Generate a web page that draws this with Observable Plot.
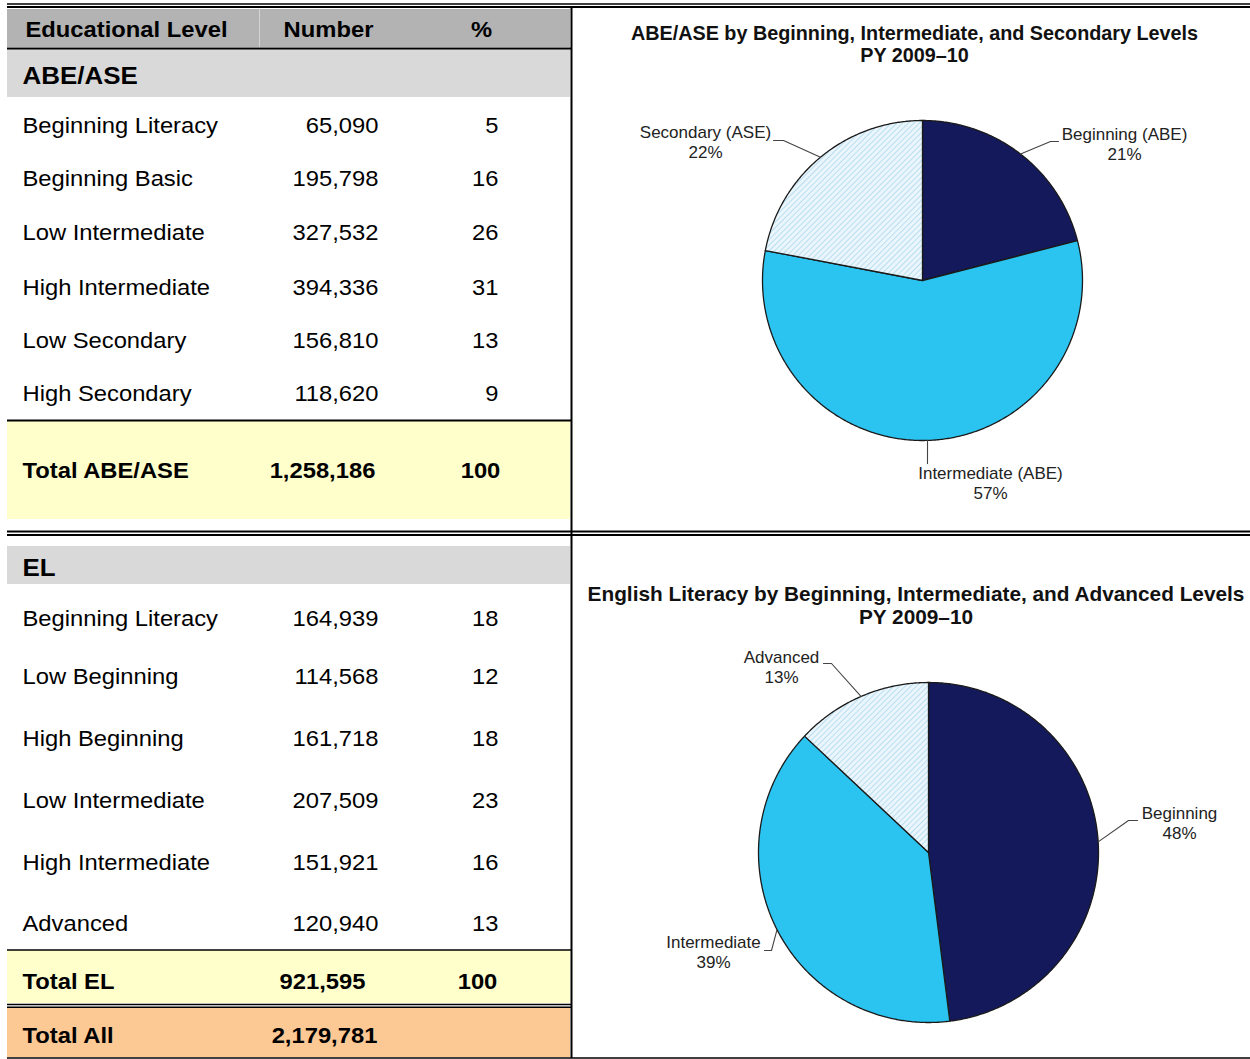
<!DOCTYPE html>
<html><head><meta charset="utf-8">
<script src="https://cdn.jsdelivr.net/npm/d3@7"></script>
<script src="https://cdn.jsdelivr.net/npm/@observablehq/plot@0.6"></script>
<style>
html,body{margin:0;padding:0;background:#fff;}
#chart{width:1250px;height:1059px;}
</style></head><body><div id="chart"></div>
<script>
// ---------------- DATA ----------------
const headers = ["Educational Level", "Number", "%"];
const abeTitle = "ABE/ASE";
const abeLevels = ["Beginning Literacy","Beginning Basic","Low Intermediate","High Intermediate","Low Secondary","High Secondary"];
const abeNumbers = [65090,195798,327532,394336,156810,118620];
const abePercents = [5,16,26,31,13,9];
const abeTotalLabel = "Total ABE/ASE";
const abeTotal = 1258186;
const abeTotalPct = 100;

const elTitle = "EL";
const elLevels = ["Beginning Literacy","Low Beginning","High Beginning","Low Intermediate","High Intermediate","Advanced"];
const elNumbers = [164939,114568,161718,207509,151921,120940];
const elPercents = [18,12,18,23,16,13];
const elTotalLabel = "Total EL";
const elTotal = 921595;
const elTotalPct = 100;

const allTotalLabel = "Total All";
const allTotal = 2179781;

const abePieTitle = ["ABE/ASE by Beginning, Intermediate, and Secondary Levels", "PY 2009–10"];
const abePieLabels = ["Beginning (ABE)","Intermediate (ABE)","Secondary (ASE)"];
const abePieValues = [21,57,22];

const elPieTitle = ["English Literacy by Beginning, Intermediate, and Advanced Levels", "PY 2009–10"];
const elPieLabels = ["Beginning","Intermediate","Advanced"];
const elPieValues = [48,39,13];

// ---------------- LAYOUT / STYLE ----------------
const W = 1250, H = 1059;
const FONT = "'Liberation Sans', Arial, Helvetica, sans-serif";
const STRETCH = 1.08;
const C = {
  navy: "#13195a", sky: "#2bc4f1", hatch: "url(#hatch)",
  hdr: "#b3b3b3", sub: "#d9d9d9", yellow: "#ffffcc", peach: "#fcc995"
};
const sliceFills = [C.navy, C.sky, C.hatch];
const T = {left: 7, div: 571, labelX: 22, numRight: 378, pctRight: 498, numCenter: 322, pctCenter: 480};
const abeRowY = [125,178,232,287,340,393];
const elRowY = [618,676,738,800,862,923];

const pies = [
  {cx: 922, cy: 280, r: 160, labels: abePieLabels, values: abePieValues,
   title: abePieTitle, titleX: 914, titleY: [33, 55], titleSize: 19.8,
   text: [{x:1124,y:134},{x:990,y:473},{x:705,y:132}],
   leader: [[[1050,141],[1058,141]], [[927,463]], [[783,140],[773,140]]]},
  {cx: 928, cy: 852, r: 170, labels: elPieLabels, values: elPieValues,
   title: elPieTitle, titleX: 915.5, titleY: [594, 617], titleSize: 20.8,
   text: [{x:1179,y:813},{x:713,y:942},{x:781,y:657}],
   leader: [[[1128,820],[1137,820]], [[771,950],[764,950]], [[831,663],[823,663]]]}
];

const fmt = d3.format(",");

// background bands
const bands = [
  {x1:T.left,x2:T.div-1,y1:9,y2:47,fill:C.hdr},
  {x1:T.left,x2:T.div-1,y1:49,y2:97,fill:C.sub},
  {x1:T.left,x2:T.div-1,y1:421,y2:519,fill:C.yellow},
  {x1:T.left,x2:T.div-1,y1:546,y2:584,fill:C.sub},
  {x1:T.left,x2:T.div-1,y1:950,y2:1003,fill:C.yellow},
  {x1:T.left,x2:T.div-1,y1:1007,y2:1057,fill:C.peach}
];
const hrules = [
  {y:3.5,x1:T.left,x2:W,w:1.5},{y:6.5,x1:T.left,x2:W,w:2},
  {y:48,x1:T.left,x2:T.div,w:2},{y:420,x1:T.left,x2:T.div,w:2},
  {y:531,x1:T.left,x2:W,w:2},{y:534.5,x1:T.left,x2:W,w:2},
  {y:949.5,x1:T.left,x2:T.div,w:1.5},
  {y:1004,x1:T.left,x2:T.div,w:1.5},{y:1006.8,x1:T.left,x2:T.div,w:1.5},
  {y:1057.5,x1:T.left,x2:W,w:1.5}
];
const vrules = [{x:T.div,y1:8,y2:1058,w:2,s:"#000"},{x:259,y1:9,y2:47,w:1,s:"#d4d4d4"}];

// ---------------- TABLE TEXT ----------------
const regStart = [], regEnd = [], boldStart = [], boldMid = [], subStart = [];
abeLevels.forEach((l,i) => {
  regStart.push({x:T.labelX, y:abeRowY[i], t:l});
  regEnd.push({x:T.numRight, y:abeRowY[i], t:fmt(abeNumbers[i])});
  regEnd.push({x:T.pctRight, y:abeRowY[i], t:String(abePercents[i])});
});
elLevels.forEach((l,i) => {
  regStart.push({x:T.labelX, y:elRowY[i], t:l});
  regEnd.push({x:T.numRight, y:elRowY[i], t:fmt(elNumbers[i])});
  regEnd.push({x:T.pctRight, y:elRowY[i], t:String(elPercents[i])});
});
boldStart.push({x:25, y:29, t:headers[0]});
boldMid.push({x:328, y:29, t:headers[1]}, {x:481, y:29, t:headers[2]});
subStart.push({x:T.labelX, y:76, t:abeTitle}, {x:T.labelX, y:568, t:elTitle});
boldStart.push({x:T.labelX, y:470, t:abeTotalLabel}, {x:T.labelX, y:981, t:elTotalLabel}, {x:T.labelX, y:1035, t:allTotalLabel});
boldMid.push({x:T.numCenter, y:470, t:fmt(abeTotal)}, {x:T.pctCenter, y:470, t:String(abeTotalPct)});
boldMid.push({x:T.numCenter, y:981, t:fmt(elTotal)}, {x:477, y:981, t:String(elTotalPct)});
boldMid.push({x:324, y:1035, t:fmt(allTotal)});

// ---------------- PIES ----------------
const wedgePts = [], leaderPts = [], pieText = [], titleText = [];
pies.forEach((p, pi) => {
  const total = d3.sum(p.values);
  let acc = 0;
  const pt = a => [p.cx + p.r*Math.sin(a), p.cy - p.r*Math.cos(a)];
  p.values.forEach((v, i) => {
    const a0 = acc/total*2*Math.PI, a1 = (acc+v)/total*2*Math.PI;
    acc += v;
    const key = `p${pi}s${i}`;
    const pts = [[p.cx,p.cy]];
    const n = Math.max(2, Math.ceil((a1-a0)/(Math.PI/360)));
    for (let k=0;k<=n;k++) pts.push(pt(a0 + (a1-a0)*k/n));
    pts.push([p.cx,p.cy]);
    pts.forEach(([x,y]) => wedgePts.push({x,y,key,fill:sliceFills[i]}));
    const mid = pt((a0+a1)/2);
    [mid, ...p.leader[i]].forEach(([x,y]) => leaderPts.push({x,y,key}));
    pieText.push({x:p.text[i].x, y:p.text[i].y, t:p.labels[i]});
    pieText.push({x:p.text[i].x, y:p.text[i].y+20, t:`${v}%`});
  });
  titleText.push({x:p.titleX, y:p.titleY[0], t:p.title[0], s:p.titleSize});
  titleText.push({x:p.titleX, y:p.titleY[1], t:p.title[1], s:p.titleSize});
});

const svg = Plot.plot({
  width: W, height: H, margin: 0,
  x: {domain:[0,W], range:[0,W]},
  y: {domain:[0,H], range:[0,H]},
  color: {type: "identity"},
  axis: null,
  style: {background:"#fff", fontFamily: FONT},
  marks: [
    Plot.rect(bands, {x1:"x1", x2:"x2", y1:"y1", y2:"y2", fill:"fill"}),
    Plot.ruleY(hrules, {y:"y", x1:"x1", x2:"x2", strokeWidth:"w", stroke:"#000"}),
    Plot.ruleX(vrules, {x:"x", y1:"y1", y2:"y2", strokeWidth:"w", stroke:"s"}),
    ...[0,1,2,3,4,5].map(k => Plot.line(wedgePts.filter(d => d.key === `p${k<3?0:1}s${k%3}`), {
      x:"x", y:"y", fill: sliceFills[k%3], stroke:"#1a1a1a", strokeWidth:1.3, curve:"linear"})),
    Plot.line(leaderPts, {x:"x", y:"y", z:"key", stroke:"#444", strokeWidth:1.1}),
    Plot.text(regStart, {x:"x", y:"y", text:"t", textAnchor:"start", fontSize:22, fill:"#000", className:"stretch", ariaLabel:"stretch"}),
    Plot.text(regEnd, {x:"x", y:"y", text:"t", textAnchor:"end", fontSize:22, fill:"#000", className:"stretch", ariaLabel:"stretch"}),
    Plot.text(boldStart, {x:"x", y:"y", text:"t", textAnchor:"start", fontSize:22, fontWeight:"bold", fill:"#000", className:"stretch", ariaLabel:"stretch"}),
    Plot.text(boldMid, {x:"x", y:"y", text:"t", textAnchor:"middle", fontSize:22, fontWeight:"bold", fill:"#000", className:"stretch", ariaLabel:"stretch"}),
    Plot.text(subStart, {x:"x", y:"y", text:"t", textAnchor:"start", fontSize:24, fontWeight:"bold", fill:"#000", className:"stretch", ariaLabel:"stretch"}),
    Plot.text(pieText, {x:"x", y:"y", text:"t", textAnchor:"middle", fontSize:17, fill:"#222"}),
    Plot.text(titleText, {x:"x", y:"y", text:"t", textAnchor:"middle", fontSize:"s", fontWeight:"bold", fill:"#111"})
  ]
});

d3.select(svg).insert("defs", ":first-child").html(
  `<pattern id="hatch" patternUnits="userSpaceOnUse" width="4" height="4" patternTransform="rotate(45)">
     <rect width="4" height="4" fill="#eaf6fc"></rect>
     <line x1="0.5" y1="0" x2="0.5" y2="4" stroke="#b4dbee" stroke-width="0.9"></line>
   </pattern>`);

document.getElementById("chart").appendChild(svg);

svg.querySelectorAll('g.stretch text, g[aria-label="stretch"] text').forEach(t => {
  if (t.hasAttribute("textLength")) return;
  const len = t.getComputedTextLength();
  t.setAttribute("textLength", (len*STRETCH).toFixed(1));
  t.setAttribute("lengthAdjust", "spacingAndGlyphs");
});
</script></body></html>
